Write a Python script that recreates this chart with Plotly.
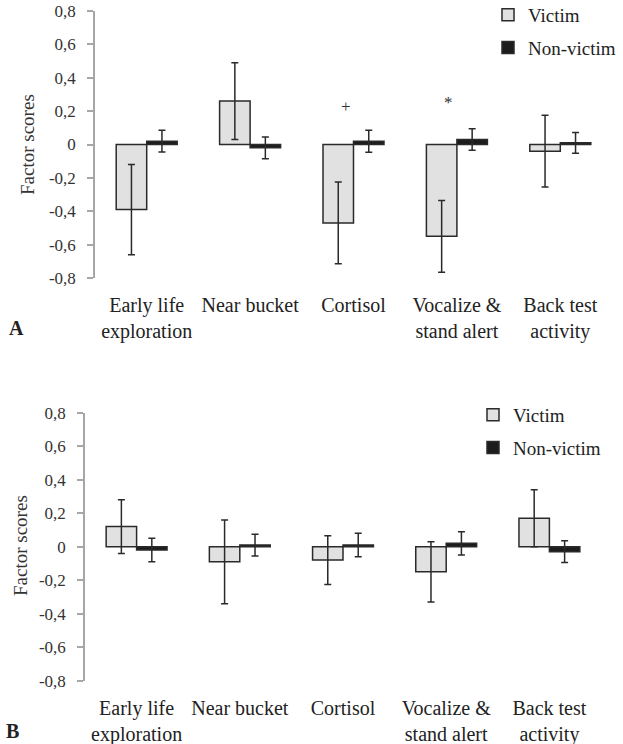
import plotly.graph_objects as go

categories = ["Early life<br>exploration", "Near bucket", "Cortisol",
              "Vocalize &<br>stand alert", "Back test<br>activity"]

# Panel A
a_victim = [-0.39, 0.26, -0.47, -0.55, -0.04]
a_victim_err = [0.27, 0.23, 0.245, 0.215, 0.215]
a_nonvictim = [0.02, -0.02, 0.02, 0.03, 0.01]
a_nonvictim_err = [0.065, 0.065, 0.066, 0.065, 0.062]

# Panel B
b_victim = [0.12, -0.09, -0.08, -0.15, 0.17]
b_victim_err = [0.16, 0.25, 0.145, 0.18, 0.17]
b_nonvictim = [-0.02, 0.01, 0.01, 0.02, -0.03]
b_nonvictim_err = [0.07, 0.065, 0.07, 0.07, 0.065]

y_tickvals = [0.8, 0.6, 0.4, 0.2, 0, -0.2, -0.4, -0.6, -0.8]
y_ticktext = ["0,8", "0,6", "0,4", "0,2", "0", "-0,2", "-0,4", "-0,6", "-0,8"]

# significance markers in panel A
sig_categories = ["Cortisol", "Vocalize &<br>stand alert"]
sig_symbols = ["+", "*"]
sig_y = [0.23, 0.25]

W, H = 623, 744
FONT = "Liberation Serif"
AXIS_GRAY = "#a6a6a6"
VICTIM_FILL = "#e1e1e1"
NONVICTIM_FILL = "#1c1c1c"
EDGE = "#2a2a2a"

fig = go.Figure()


def add_panel(xa, ya, victim, victim_err, nonvic, nonvic_err, legend):
    fig.add_trace(go.Bar(
        x=categories, y=victim, name="Victim", xaxis=xa, yaxis=ya,
        marker=dict(color=VICTIM_FILL, line=dict(color=EDGE, width=1.5)),
        error_y=dict(type="data", array=victim_err, color=EDGE, thickness=1.5, width=3.5),
        legend=legend, legendgroup=legend + "v",
    ))
    fig.add_trace(go.Bar(
        x=categories, y=nonvic, name="Non-victim", xaxis=xa, yaxis=ya,
        marker=dict(color=NONVICTIM_FILL, line=dict(color=EDGE, width=1.5)),
        error_y=dict(type="data", array=nonvic_err, color=EDGE, thickness=1.5, width=3.5),
        legend=legend, legendgroup=legend + "n",
    ))


add_panel("x", "y", a_victim, a_victim_err, a_nonvictim, a_nonvictim_err, "legend")
add_panel("x2", "y2", b_victim, b_victim_err, b_nonvictim, b_nonvictim_err, "legend2")


# pixel-based domains
def xd(l, r):
    return [l / W, r / W]


def yd(top, bottom):
    return [1 - bottom / H, 1 - top / H]


top_x = xd(95, 612)
top_y = yd(11, 278)
bot_x = xd(85, 601)
bot_y = yd(412.7, 680.7)

tickfont = dict(family=FONT, size=17, color="#333")
catfont = dict(family=FONT, size=20, color="#222")

common_y = dict(range=[-0.8, 0.8], tickmode="array", tickvals=y_tickvals, ticktext=y_ticktext,
                showline=True, linecolor=AXIS_GRAY, linewidth=1.5, ticks="outside",
                ticklen=6, tickwidth=1.5, tickcolor=AXIS_GRAY, showgrid=False, zeroline=False,
                tickfont=tickfont, ticklabelstandoff=8, fixedrange=True)
common_x = dict(showline=False, ticks="", showgrid=False, tickfont=catfont,
                ticklabelstandoff=13, fixedrange=True)
line_x = dict(type="linear", range=[-0.5, 4.5], tickmode="array",
              tickvals=[0.5, 1.5, 2.5, 3.5, 4.5], showticklabels=False,
              showline=True, linecolor=AXIS_GRAY, linewidth=1.5, ticks="outside",
              ticklen=5, tickwidth=1.5, tickcolor=AXIS_GRAY, showgrid=False,
              zeroline=False, fixedrange=True)

legend_font = dict(family=FONT, size=19, color="#222")

fig.update_layout(
    width=W, height=H,
    margin=dict(l=0, r=0, t=0, b=0, autoexpand=False),
    paper_bgcolor="white", plot_bgcolor="white",
    barmode="group", bargap=0.41, bargroupgap=0,
    font=dict(family=FONT, size=18, color="#222"),
    xaxis=dict(domain=top_x, anchor="y", **common_x),
    yaxis=dict(domain=top_y, anchor="x", **common_y),
    xaxis2=dict(domain=bot_x, anchor="y2", **common_x),
    yaxis2=dict(domain=bot_y, anchor="x2", **common_y),
    xaxis3=dict(domain=top_x, anchor="free", overlaying="x",
                position=(top_y[0] + top_y[1]) / 2, **line_x),
    xaxis4=dict(domain=bot_x, anchor="free", overlaying="x2",
                position=(bot_y[0] + bot_y[1]) / 2, **line_x),
    legend=dict(x=488 / W, y=1 + 4 / H, xanchor="left", yanchor="top",
                font=legend_font, bgcolor="rgba(0,0,0,0)",
                tracegroupgap=5, traceorder="grouped"),
    legend2=dict(x=473 / W, y=1 - 396 / H, xanchor="left", yanchor="top",
                 font=legend_font, bgcolor="rgba(0,0,0,0)",
                 tracegroupgap=5, traceorder="grouped"),
    showlegend=True,
)

annotations = [
    dict(text="Factor scores", textangle=-90, x=28 / W, y=1 - 145 / H, xref="paper", yref="paper",
         xanchor="center", yanchor="middle",
         showarrow=False, font=dict(family=FONT, size=19, color="#333")),
    dict(text="Factor scores", textangle=-90, x=20 / W, y=1 - 546 / H, xref="paper", yref="paper",
         xanchor="center", yanchor="middle",
         showarrow=False, font=dict(family=FONT, size=19, color="#333")),
    dict(text="<b>A</b>", x=16 / W, y=1 - 328 / H, xref="paper", yref="paper",
         xanchor="center", yanchor="middle",
         showarrow=False, font=dict(family=FONT, size=20, color="#222")),
    dict(text="<b>B</b>", x=12 / W, y=1 - 731 / H, xref="paper", yref="paper",
         xanchor="center", yanchor="middle",
         showarrow=False, font=dict(family=FONT, size=20, color="#222")),
]
for cat, sym, yv in zip(sig_categories, sig_symbols, sig_y):
    annotations.append(dict(text=sym, x=cat, y=yv, xref="x", yref="y", showarrow=False,
                            xshift=-8, font=dict(family=FONT, size=17, color="#333")))
fig.update_layout(annotations=annotations)

fig.write_html("out.html",
               config={"displayModeBar": False, "staticPlot": False},
               post_script="document.body.style.margin='0px';document.body.style.overflow='hidden';")
